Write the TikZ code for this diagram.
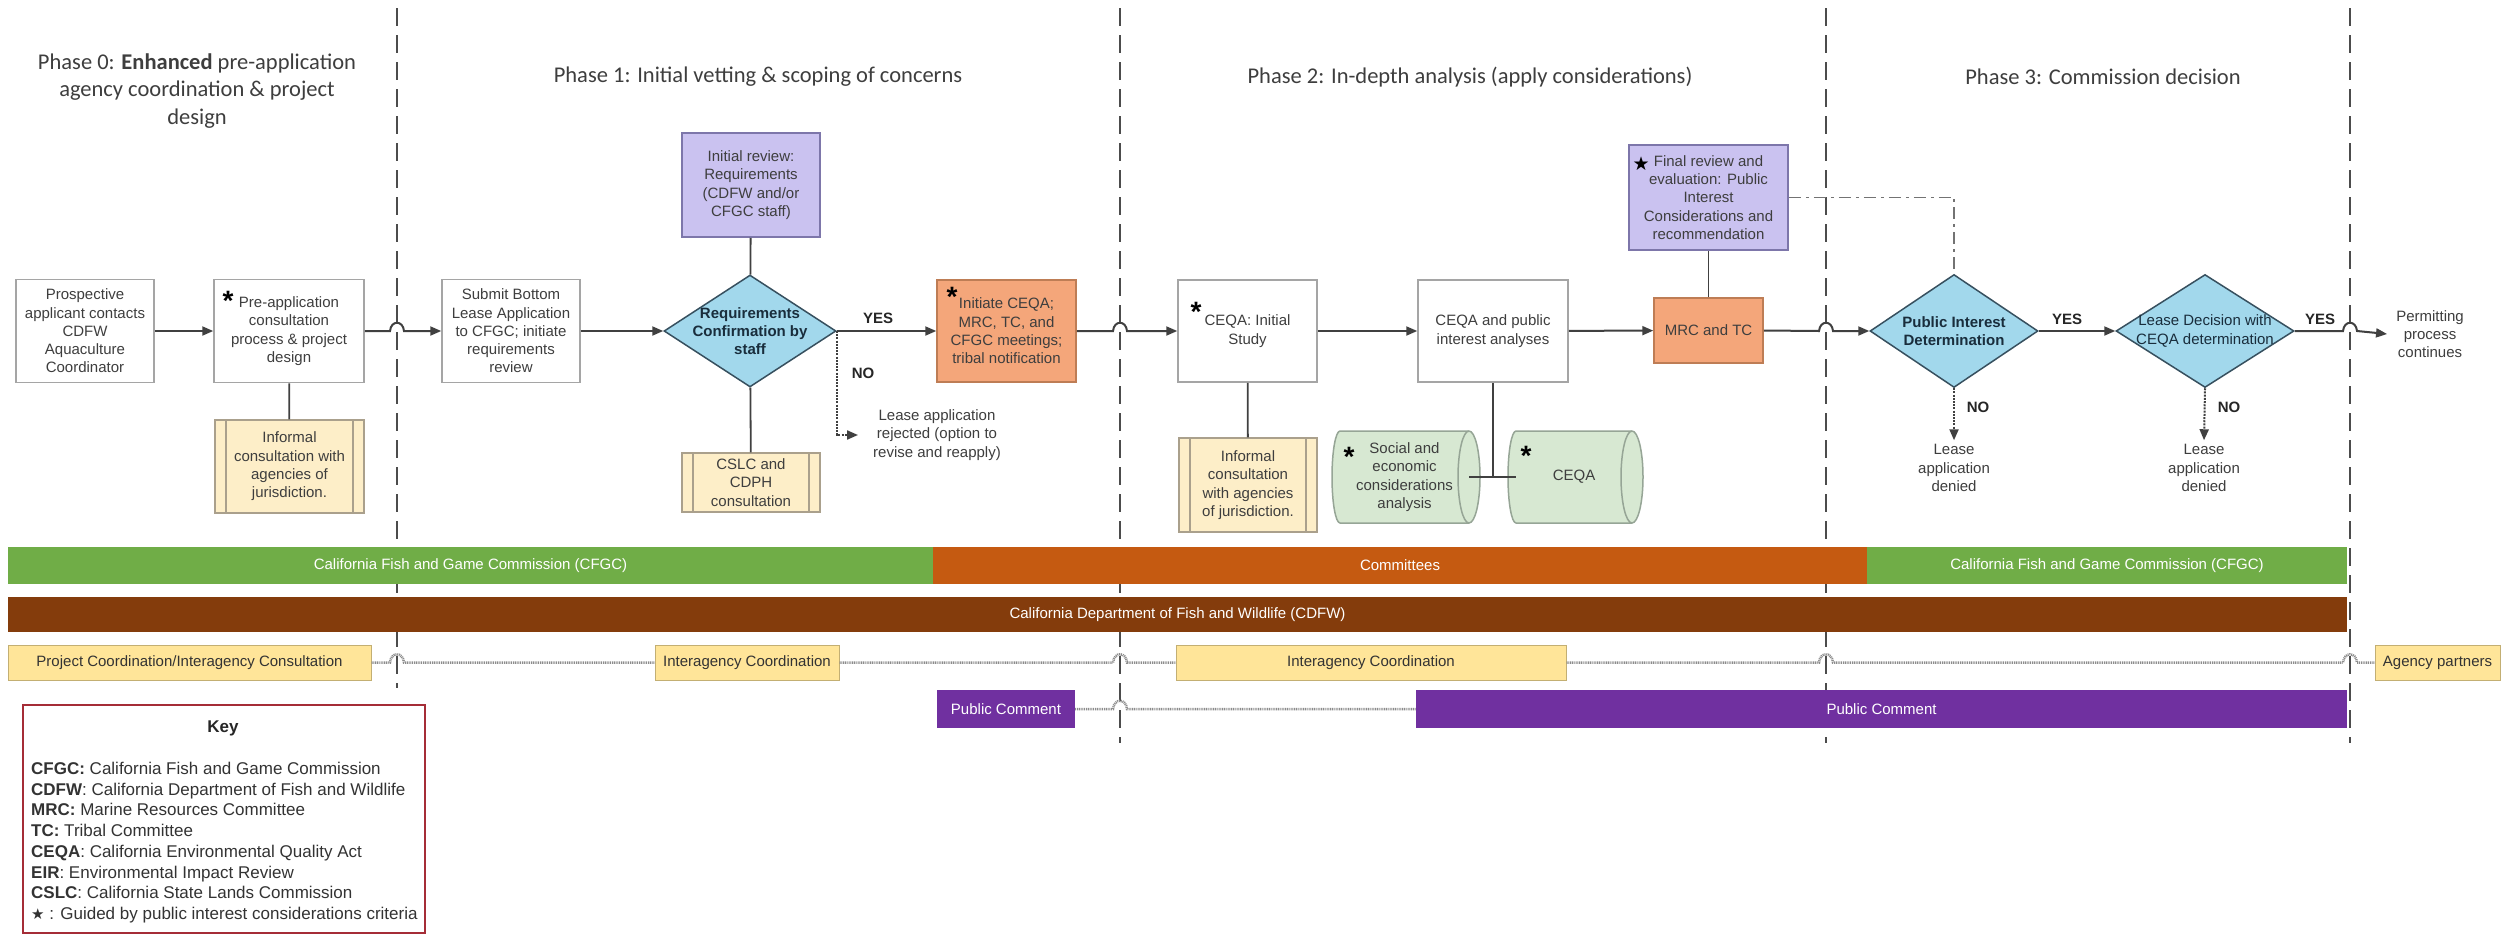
\documentclass[tikz,border=0pt]{standalone}
\usepackage{fontspec}
\setmainfont{Liberation Sans}
\newfontfamily\calibri{Carlito}
\newfontfamily\dejavu{DejaVu Sans}
\usetikzlibrary{shapes.geometric,arrows.meta,calc}
\definecolor{boxline}{RGB}{165,165,165}
\definecolor{txt}{RGB}{62,62,62}
\definecolor{navy}{RGB}{25,45,60}
\definecolor{lav}{RGB}{202,194,240}
\definecolor{lavline}{RGB}{125,118,170}
\definecolor{sky}{RGB}{162,216,236}
\definecolor{skyline}{RGB}{55,80,95}
\definecolor{peach}{RGB}{244,166,122}
\definecolor{peachline}{RGB}{190,125,85}
\definecolor{cream}{RGB}{253,238,200}
\definecolor{creamline}{RGB}{170,160,140}
\definecolor{mint}{RGB}{215,232,210}
\definecolor{mintline}{RGB}{150,165,150}
\definecolor{cfgcgreen}{RGB}{112,173,71}
\definecolor{committee}{RGB}{197,90,17}
\definecolor{cdfwbrown}{RGB}{132,60,12}
\definecolor{partner}{RGB}{255,229,153}
\definecolor{partnerline}{RGB}{195,175,115}
\definecolor{comment}{RGB}{112,48,160}
\definecolor{keyred}{RGB}{165,45,55}

\begin{document}
\begin{tikzpicture}[x=1pt,y=-1pt,
  every node/.style={text=txt,align=center,inner sep=0pt,font=\fontsize{15}{18.3}\selectfont},
  phase/.style={font=\calibri\fontsize{22.5}{27.5}\selectfont},
  stepbox/.style={draw=boxline,line width=1.5pt,fill=white,minimum width=138pt,minimum height=103pt},
  review/.style={stepbox,fill=lav,draw=lavline},
  meeting/.style={stepbox,fill=peach,draw=peachline},
  consult/.style={stepbox,fill=cream,draw=creamline,path picture={
      \draw[creamline,line width=1.2pt] ([xshift=11pt]path picture bounding box.north west) -- ([xshift=11pt]path picture bounding box.south west)
        ([xshift=-11pt]path picture bounding box.north east) -- ([xshift=-11pt]path picture bounding box.south east);}},
  decide/.style={diamond,draw=skyline,line width=1.5pt,fill=sky,minimum width=172pt,minimum height=112pt},
  dtext/.style={font=\bfseries\fontsize{15}{18.3}\selectfont,text=navy},
  drum/.style={draw=mintline,fill=mint,line width=1.5pt},
  store/.style={minimum height=92pt},
  ast/.style={font=\bfseries\fontsize{28}{28}\selectfont,text=black,anchor=north},
  answer/.style={font=\bfseries\fontsize{15}{18}\selectfont,text=black!85},
  flow/.style={draw=black!75,line width=2pt,-{Triangle[length=11pt,width=9pt]}},
  tie/.style={draw=black!75,line width=1.8pt},
  noflow/.style={flow,dash pattern=on 2pt off 1.2pt},
  divider/.style={draw=black!70,line width=1.8pt,dash pattern=on 18pt off 9pt},
  bar/.style={text=white,minimum height=37pt},
  partnerbox/.style={draw=partnerline,fill=partner,line width=1pt,minimum height=35pt,text=black!80},
  commentbox/.style={fill=comment,minimum height=38pt,text=white},
  thread/.style={draw=black!45,line width=2.5pt,dash pattern=on 1pt off 0.8pt},
  hop/.style={insert path={-- ([xshift=-7pt]#1) .. controls ([xshift=-6pt,yshift=11pt]#1) and ([xshift=6pt,yshift=11pt]#1) .. ([xshift=7pt]#1)}}
]
\useasboundingbox[fill=white] (0,0) rectangle (2519,935);

\draw[divider] (397,8) -- (397,688);
\draw[divider] (1120,8) -- (1120,743);
\draw[divider] (1826,8) -- (1826,743);
\draw[divider] (2350,8) -- (2350,743);

\node[phase] (ph0) at (197,91) {Phase 0: \textbf{Enhanced} pre-application\\agency coordination \& project\\design};
\node[phase] (ph1) at (758,77) {Phase 1: Initial vetting \& scoping of concerns};
\node[phase] (ph2) at (1470,77) {Phase 2: In-depth analysis (apply considerations)};
\node[phase] (ph3) at (2103,77) {Phase 3: Commission decision};

\draw[drum] (1340,431) -- (1469,431) arc[start angle=90,end angle=-90,x radius=11pt,y radius=46pt] -- (1340,523) arc[start angle=270,end angle=90,x radius=8pt,y radius=46pt] -- cycle;
\draw[drum,fill=none] (1469,431) arc[start angle=90,end angle=270,x radius=11pt,y radius=46pt];
\draw[drum] (1516,431) -- (1632,431) arc[start angle=90,end angle=-90,x radius=11pt,y radius=46pt] -- (1516,523) arc[start angle=270,end angle=90,x radius=8pt,y radius=46pt] -- cycle;
\draw[drum,fill=none] (1632,431) arc[start angle=90,end angle=270,x radius=11pt,y radius=46pt];

\node[stepbox] (prosp) at (85,331) {Prospective\\applicant contacts\\CDFW\\Aquaculture\\Coordinator};
\node[stepbox,minimum width=150pt] (pre) at (289,331) {Pre-application\\consultation\\process \& project\\design};
\node[consult,minimum width=149pt,minimum height=93pt] (inf1) at (289.5,466.5) {Informal\\consultation with\\agencies of\\jurisdiction.};
\node[stepbox] (sub) at (511,331) {Submit Bottom\\Lease Application\\to CFGC; initiate\\requirements\\review};
\node[review,minimum height=104pt] (irev) at (751,185) {Initial review:\\Requirements\\(CDFW and/or\\CFGC staff)};
\node[decide,label={[dtext]center:{Requirements\\Confirmation by\\staff}}] (dreq) at (750,331) {};
\node[consult,minimum height=59pt] (cslc) at (751,482.5) {CSLC and\\CDPH\\consultation};
\node (rej) at (937,435) {Lease application\\rejected (option to\\revise and reapply)};
\node[meeting,minimum width=139pt,minimum height=102pt] (init) at (1006.5,331) {Initiate CEQA;\\MRC, TC, and\\CFGC meetings;\\tribal notification};
\node[stepbox,minimum width=139pt,minimum height=102pt] (ceqais) at (1247.5,331) {CEQA: Initial\\Study};
\node[consult,minimum height=94pt] (inf2) at (1248,485) {Informal\\consultation\\with agencies\\of jurisdiction.};
\node[stepbox,minimum width=150pt,minimum height=102pt] (ana) at (1493,331) {CEQA and public\\interest analyses};
\node[store,minimum width=129pt] (socio) at (1404.5,477) {Social and\\economic\\considerations\\analysis};
\node[store,minimum width=116pt] (ceqa) at (1574,477) {CEQA};
\node[meeting,minimum width=109pt,minimum height=65pt] (mrc) at (1708.5,330.5) {MRC and TC};
\node[review,minimum width=159pt,minimum height=105pt] (final) at (1708.5,197.5) {Final review and\\evaluation: Public\\Interest\\Considerations and\\recommendation};
\node[decide,minimum width=168pt,minimum height=113pt,label={[dtext]center:{Public Interest\\Determination}}] (dpid) at (1954,331) {};
\node[decide,minimum width=178pt,minimum height=113pt,label={[text=navy]center:{Lease Decision with\\CEQA determination}}] (dlease) at (2205,331) {};
\node (deny1) at (1954,468) {Lease\\application\\denied};
\node (deny2) at (2204,468) {Lease\\application\\denied};
\node (permit) at (2430,334) {Permitting\\process\\continues};

\node[ast] at (228,291) {*};
\node[ast] at (952,287) {*};
\node[ast] at (1196,302) {*};
\node[ast] at (1349,447) {*};
\node[ast] at (1526,446) {*};
\node[font=\dejavu\fontsize{19}{19}\selectfont,text=black] at (1641,164) {★};

\node[answer] (yes1) at (878,318) {YES};
\node[answer] (no1) at (863,373) {NO};
\node[answer] (yes2) at (2067,319) {YES};
\node[answer] (no2) at (1978,407) {NO};
\node[answer] (yes3) at (2320,319) {YES};
\node[answer] (no3) at (2229,407) {NO};

\coordinate (h01) at (397,331);
\coordinate (h12) at (1120,331);
\coordinate (h23) at (1826,331);
\coordinate (h3e) at (2350,331);

\draw[flow] (prosp) -- (pre);
\draw[flow] (pre.east) [hop=h01] -- (sub.west);
\draw[flow] (sub) -- (dreq);
\draw[tie] (irev) -- (dreq);
\draw[tie] (dreq) -- (cslc);
\draw[tie] (pre) -- (inf1);
\draw[flow] (dreq.east) -- (init.west);
\draw[noflow] (dreq.east) |- ([xshift=-15pt]rej.west);
\draw[flow] (init.east) [hop=h12] -- (ceqais.west);
\draw[tie] (ceqais) -- (inf2);
\draw[flow] (ceqais) -- (ana);
\coordinate (fork) at (ana.south |- socio.east);
\draw[tie] (ana.south) -- (fork);
\draw[tie] (socio.east) -- (ceqa.west);
\draw[flow] (ana) -- (mrc);
\draw[tie] (mrc) -- (final);
\draw[flow] (mrc.east) [hop=h23] -- (dpid.west);
\draw[draw=black!55,line width=1.8pt,dash pattern=on 12pt off 5pt on 3pt off 5pt] (final.east) -| (dpid.north);
\draw[flow] (dpid) -- (dlease);
\draw[noflow] (dpid.south) -- ([yshift=4pt]deny1.north);
\draw[noflow] (dlease.south) -- ([yshift=4pt]deny2.north);
\draw[flow] (dlease.east) [hop=h3e] -- ([xshift=-9pt]permit.west);

\node[bar,fill=cfgcgreen,minimum width=925pt] (cfgc1) at (470.5,565.5) {California Fish and Game Commission (CFGC)};
\node[bar,fill=committee,minimum width=934pt] (comm) at (1400,565.5) {Committees};
\node[bar,fill=cfgcgreen,minimum width=480pt] (cfgc2) at (2107,565.5) {California Fish and Game Commission (CFGC)};
\node[bar,fill=cdfwbrown,minimum width=2339pt,minimum height=35pt] (cdfw) at (1177.5,614.5) {California Department of Fish and Wildlife (CDFW)};

\node[partnerbox,minimum width=363pt] (pci) at (189.5,662.5) {Project Coordination/Interagency Consultation};
\node[partnerbox,minimum width=184pt] (ic1) at (747,662.5) {Interagency Coordination};
\node[partnerbox,minimum width=390pt] (ic2) at (1371,662.5) {Interagency Coordination};
\node[partnerbox,minimum width=125pt] (agp) at (2437.5,662.5) {Agency partners};
\node[commentbox,minimum width=138pt] (pc1) at (1006,709) {Public Comment};
\node[commentbox,minimum width=931pt] (pc2) at (1881.5,709) {Public Comment};

\coordinate (t01) at (397,662.5);
\coordinate (t12) at (1120,662.5);
\coordinate (t23) at (1826,662.5);
\coordinate (t3e) at (2350,662.5);
\coordinate (c12) at (1120,709);
\draw[thread] (pci.east) [hop=t01] -- (ic1.west);
\draw[thread] (ic1.east) [hop=t12] -- (ic2.west);
\draw[thread] (ic2.east) [hop=t23] [hop=t3e] -- (agp.west);
\draw[thread] (pc1.east) [hop=c12] -- (pc2.west);

\node[draw=keyred,line width=1.8pt,minimum width=402pt,minimum height=228pt] (key) at (224,819) {};
\node[font=\bfseries\fontsize{17}{20}\selectfont,text=black!85] (keyhead) at (223,728) {Key};
\node[anchor=north west,align=left,text=black!80,font=\fontsize{17}{20.7}\selectfont] (keylist) at (31,762) {\textbf{CFGC:} California Fish and Game Commission\\
\textbf{CDFW}: California Department of Fish and Wildlife\\
\textbf{MRC:} Marine Resources Committee\\
\textbf{TC:} Tribal Committee\\
\textbf{CEQA}: California Environmental Quality Act\\
\textbf{EIR}: Environmental Impact Review\\
\textbf{CSLC}: California State Lands Commission\\
{\dejavu\fontsize{15}{15}\selectfont ★} : Guided by public interest considerations criteria};
\end{tikzpicture}
\end{document}
